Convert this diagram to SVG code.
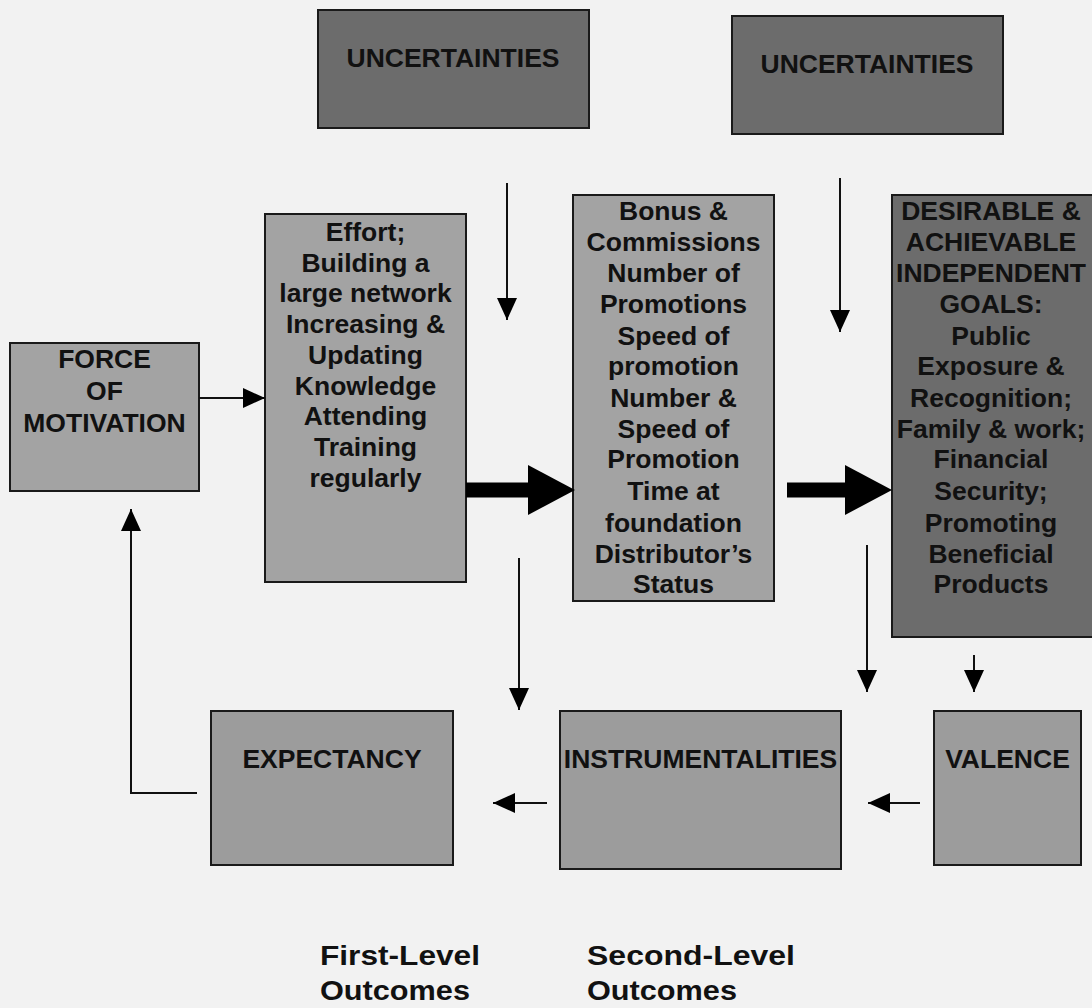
<svg xmlns="http://www.w3.org/2000/svg" width="1092" height="1008" viewBox="0 0 1092 1008">
<style>
.box{stroke:#1a1a1a;stroke-width:2}
.light{fill:#a3a3a3}
.mid{fill:#9c9c9c}
.dark{fill:#6c6c6c}
.t{font-family:"Liberation Sans",Arial,sans-serif;font-weight:bold;font-size:26.5px;fill:#111;text-anchor:middle}
.lbl{font-family:"Liberation Sans",Arial,sans-serif;font-weight:bold;font-size:27px;fill:#111}
.ln{stroke:#111;stroke-width:2;fill:none}
.thick{stroke:#000;stroke-width:15;fill:none}
</style>
<defs>
<marker id="ah" markerWidth="22" markerHeight="20" refX="22" refY="10" orient="auto" markerUnits="userSpaceOnUse">
<path d="M0,0 L22,10 L0,20 Z" fill="#000"/>
</marker>
<marker id="ahb" markerWidth="47" markerHeight="50" refX="0" refY="25" orient="auto" markerUnits="userSpaceOnUse">
<path d="M0,0 L47,25 L0,50 Z" fill="#000"/>
</marker>
</defs>
<rect width="1092" height="1008" fill="#f2f2f2"/>

<g id="uncertainties1">
<rect class="box dark" x="318" y="10" width="271" height="118"/>
<text class="t" x="453" y="67">UNCERTAINTIES</text>
</g>
<g id="uncertainties2">
<rect class="box dark" x="732" y="16" width="271" height="118"/>
<text class="t" x="867" y="73">UNCERTAINTIES</text>
</g>
<g id="force">
<rect class="box light" x="10" y="343" width="189" height="148"/>
<text class="t" x="104.5" y="368">FORCE</text>
<text class="t" x="104.5" y="400">OF</text>
<text class="t" x="104.5" y="432">MOTIVATION</text>
</g>
<g id="effort">
<rect class="box light" x="265" y="214" width="201" height="368"/>
<text class="t" x="365.5" y="241">Effort;</text>
<text class="t" x="365.5" y="272">Building a</text>
<text class="t" x="365.5" y="302">large network</text>
<text class="t" x="365.5" y="333">Increasing &amp;</text>
<text class="t" x="365.5" y="364">Updating</text>
<text class="t" x="365.5" y="395">Knowledge</text>
<text class="t" x="365.5" y="425">Attending</text>
<text class="t" x="365.5" y="456">Training</text>
<text class="t" x="365.5" y="487">regularly</text>
</g>
<g id="bonus">
<rect class="box light" x="573" y="195" width="201" height="406"/>
<text class="t" x="673.5" y="220">Bonus &amp;</text>
<text class="t" x="673.5" y="251">Commissions</text>
<text class="t" x="673.5" y="282">Number of</text>
<text class="t" x="673.5" y="313">Promotions</text>
<text class="t" x="673.5" y="345">Speed of</text>
<text class="t" x="673.5" y="375">promotion</text>
<text class="t" x="673.5" y="407">Number &amp;</text>
<text class="t" x="673.5" y="438">Speed of</text>
<text class="t" x="673.5" y="468">Promotion</text>
<text class="t" x="673.5" y="500">Time at</text>
<text class="t" x="673.5" y="532">foundation</text>
<text class="t" x="673.5" y="563">Distributor’s</text>
<text class="t" x="673.5" y="593">Status</text>
</g>
<g id="goals">
<rect class="box dark" x="892" y="195" width="202" height="442"/>
<text class="t" x="991" y="220">DESIRABLE &amp;</text>
<text class="t" x="991" y="251">ACHIEVABLE</text>
<text class="t" x="991" y="282">INDEPENDENT</text>
<text class="t" x="991" y="313">GOALS:</text>
<text class="t" x="991" y="345">Public</text>
<text class="t" x="991" y="375">Exposure &amp;</text>
<text class="t" x="991" y="407">Recognition;</text>
<text class="t" x="991" y="438">Family &amp; work;</text>
<text class="t" x="991" y="468">Financial</text>
<text class="t" x="991" y="500">Security;</text>
<text class="t" x="991" y="532">Promoting</text>
<text class="t" x="991" y="563">Beneficial</text>
<text class="t" x="991" y="593">Products</text>
</g>
<g id="expectancy">
<rect class="box mid" x="211" y="711" width="242" height="154"/>
<text class="t" x="332" y="768">EXPECTANCY</text>
</g>
<g id="instrumentalities">
<rect class="box mid" x="560" y="711" width="281" height="158"/>
<text class="t" x="700.5" y="768">INSTRUMENTALITIES</text>
</g>
<g id="valence">
<rect class="box mid" x="934" y="711" width="147" height="154"/>
<text class="t" x="1007.5" y="768">VALENCE</text>
</g>

<g id="labels">
<text class="lbl" x="320" y="965" textLength="160" lengthAdjust="spacingAndGlyphs">First-Level</text>
<text class="lbl" x="320" y="1000" textLength="150" lengthAdjust="spacingAndGlyphs">Outcomes</text>
<text class="lbl" x="587" y="965" textLength="208" lengthAdjust="spacingAndGlyphs">Second-Level</text>
<text class="lbl" x="587" y="1000" textLength="150" lengthAdjust="spacingAndGlyphs">Outcomes</text>
</g>

<g id="connectors">
<line class="ln" x1="199" y1="398" x2="265" y2="398" marker-end="url(#ah)"/>
<line class="thick" x1="466" y1="490" x2="528" y2="490" marker-end="url(#ahb)"/>
<line class="thick" x1="787" y1="490" x2="845" y2="490" marker-end="url(#ahb)"/>
<line class="ln" x1="507" y1="183" x2="507" y2="320" marker-end="url(#ah)"/>
<line class="ln" x1="840" y1="178" x2="840" y2="332" marker-end="url(#ah)"/>
<line class="ln" x1="519" y1="558" x2="519" y2="710" marker-end="url(#ah)"/>
<line class="ln" x1="867" y1="545" x2="867" y2="692" marker-end="url(#ah)"/>
<line class="ln" x1="974" y1="655" x2="974" y2="692" marker-end="url(#ah)"/>
<line class="ln" x1="920" y1="803" x2="868" y2="803" marker-end="url(#ah)"/>
<line class="ln" x1="547" y1="803" x2="493" y2="803" marker-end="url(#ah)"/>
<polyline class="ln" points="197,793 131,793 131,509" marker-end="url(#ah)"/>
</g>
</svg>
